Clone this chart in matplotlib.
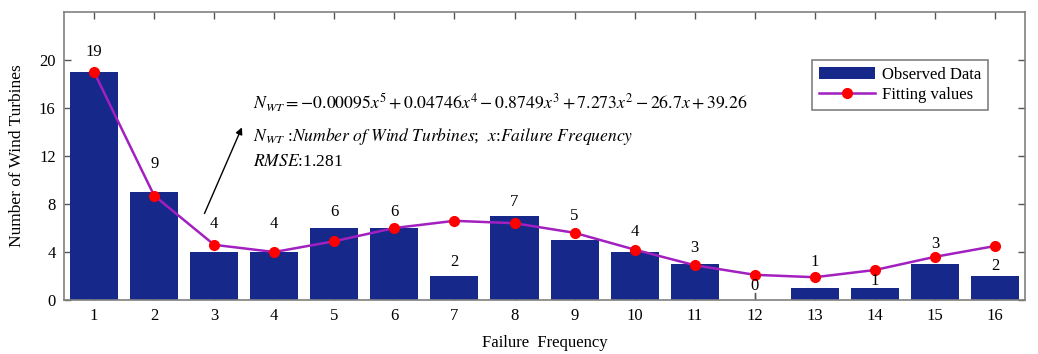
import matplotlib.pyplot as plt
import numpy as np

plt.rcParams['font.family'] = ['Liberation Serif', 'DejaVu Serif']
plt.rcParams['mathtext.fontset'] = 'stix'

# failure frequency (x) and number of turbines observed
freq = [1, 2, 3, 4, 5, 6, 7, 8, 9, 10, 11, 12, 13, 14, 15, 16]
observed = [19, 9, 4, 4, 6, 6, 2, 7, 5, 4, 3, 0, 1, 1, 3, 2]
# fitted values
fitted = [19.0, 8.7, 4.6, 4.0, 4.9, 6.0, 6.6, 6.4, 5.6, 4.2, 2.9, 2.1, 1.9, 2.5, 3.6, 4.5]
# height of the count labels above each bar
label_pad = [1.7, 2.35, 2.3, 2.3, 1.3, 1.3, 1.2, 1.15, 2.0, 1.7, 1.3, 1.15, 2.2, 0.6, 1.7, 0.85]

bar_color = '#16288a'
line_color = '#a21fc0'

fig = plt.figure(figsize=(10.38, 3.54), dpi=100)
ax = fig.add_axes([0.0617, 0.1525, 0.9258, 0.8135])

bars = ax.bar(freq, observed, width=0.8, color=bar_color, label='Observed Data', zorder=2)
line, = ax.plot(freq, fitted, color=line_color, lw=1.8, marker='o', ms=7,
                mfc='red', mec='red', label='Fitting values', zorder=3)

for x, v, p in zip(freq, observed, label_pad):
    ax.text(x, v + p, str(v), ha='center', va='center', fontsize=12, zorder=4)
# zero-height bar at 12 shows only as a stub
ax.plot([12, 12], [0, 0.6], color='#555555', lw=1, zorder=1)

ax.set_xlim(0.5, 16.5)
ax.set_ylim(0, 24)
ax.set_xticks(freq)
ax.set_yticks(np.arange(0, 21, 4))
ax.set_axisbelow(True)
ax.tick_params(direction='in', top=True, right=True, length=5, width=1,
               color='#555555', labelsize=12, pad=6)
for s in ax.spines.values():
    s.set_color('#808080')
    s.set_linewidth(1.2)

ax.set_xlabel('Failure  Frequency', fontsize=12, labelpad=8)
ax.set_ylabel('Number of Wind Turbines', fontsize=12.5, labelpad=10)

ax.text(3.65, 16.4,
        r'$N_{WT}=-0.00095x^5+0.04746x^4-0.8749x^3+7.273x^2-26.7x+39.26$',
        fontsize=12.8, va='center', ha='left')
ax.text(3.65, 13.6,
        r'$N_{WT}$ :$\it{Number\ of\ Wind\ Turbines}$;  $x$:$\it{Failure\ Frequency}$',
        fontsize=12.6, va='center', ha='left')
ax.text(3.65, 11.5, r'$RMSE$:1.281', fontsize=12.6, va='center', ha='left')
ax.annotate('', xy=(3.48, 14.6), xytext=(2.82, 7.0),
            arrowprops=dict(arrowstyle='-|>', color='black', lw=1, mutation_scale=10))

leg = ax.legend([bars, line], ['Observed Data', 'Fitting values'],
                loc='upper right', bbox_to_anchor=(0.97, 0.862), fontsize=12,
                fancybox=False, edgecolor='#808080', framealpha=1,
                handlelength=3.4, handletextpad=0.4, borderpad=0.4, labelspacing=0.25)
leg.get_frame().set_linewidth(1.2)

fig.savefig('out.png', dpi=100)
